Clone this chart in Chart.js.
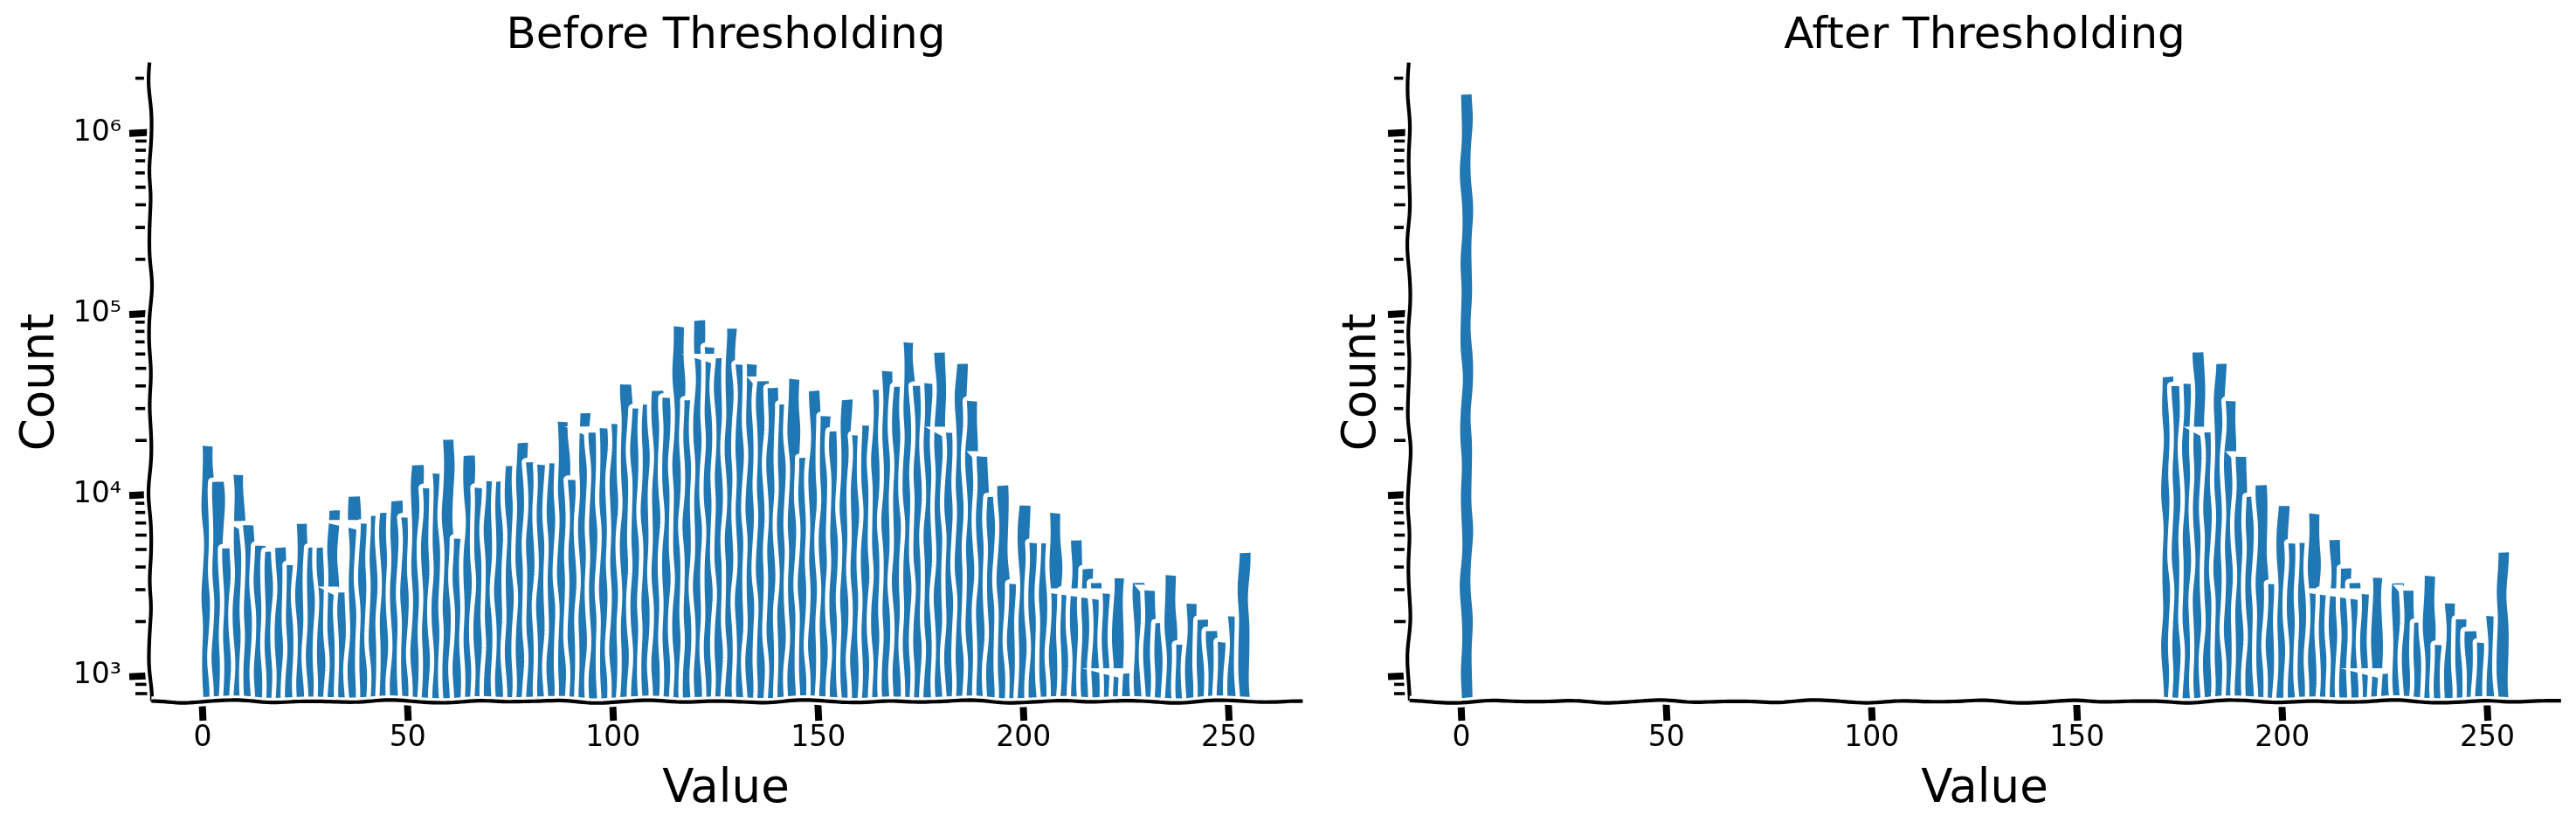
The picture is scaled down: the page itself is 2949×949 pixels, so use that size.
<!DOCTYPE html>
<html>
<head>
<meta charset="utf-8">
<title>Before and After Thresholding</title>
<script src="https://cdn.jsdelivr.net/npm/chart.js@4"></script>
<style>
    html, body { margin: 0; padding: 0; background: #fff; }
    canvas { position: absolute; top: 0; }
    #beforeChart { left: 0; }
    #afterChart { left: 1520px; }
</style>
</head>
<body>
<canvas id="beforeChart" width="1520" height="949"></canvas>
<canvas id="afterChart" width="1429" height="949"></canvas>
<script>
// histogram bins (centre of each 2.55 wide bin)
const binCenters = [
    1.275, 3.825, 6.375, 8.925, 11.475, 14.025, 16.575, 19.125, 21.675, 24.225,
    26.775, 29.325, 31.875, 34.425, 36.975, 39.525, 42.075, 44.625, 47.175, 49.725,
    52.275, 54.825, 57.375, 59.925, 62.475, 65.025, 67.575, 70.125, 72.675, 75.225,
    77.775, 80.325, 82.875, 85.425, 87.975, 90.525, 93.075, 95.625, 98.175, 100.725,
    103.275, 105.825, 108.375, 110.925, 113.475, 116.025, 118.575, 121.125, 123.675, 126.225,
    128.775, 131.325, 133.875, 136.425, 138.975, 141.525, 144.075, 146.625, 149.175, 151.725,
    154.275, 156.825, 159.375, 161.925, 164.475, 167.025, 169.575, 172.125, 174.675, 177.225,
    179.775, 182.325, 184.875, 187.425, 189.975, 192.525, 195.075, 197.625, 200.175, 202.725,
    205.275, 207.825, 210.375, 212.925, 215.475, 218.025, 220.575, 223.125, 225.675, 228.225,
    230.775, 233.325, 235.875, 238.425, 240.975, 243.525, 246.075, 248.625, 251.175, 253.725
];
const beforeCounts = [
    18710, 11950, 5100, 12820, 6810, 5160, 4895, 5160, 4040, 7040,
    5100, 5100, 8160, 2915, 9860, 6960, 7550, 7890, 9290, 7550,
    14660, 10980, 13010, 20520, 5640, 16250, 10860, 11870, 11770, 14330,
    19200, 15200, 14590, 14920, 25340, 12130, 27910, 22180, 23630, 24700,
    41170, 29840, 31530, 37240, 34970, 84100, 32710, 90900, 64920, 56380,
    82000, 52740, 52150, 42570, 39650, 31290, 43520, 15720, 37670, 26790,
    22500, 33330, 21210, 23890, 38350, 48420, 39380, 69080, 40090, 41770,
    61420, 22250, 52740, 33330, 16560, 9860, 11300, 3245, 8670, 5450,
    5370, 7890, 2915, 5700, 3865, 3270, 2820, 3470, 1030, 3270,
    3010, 1975, 3560, 1460, 2540, 2020, 1775, 1540, 2145, 4770
];
const afterBins = [
    1.275, 172.125, 174.675, 177.225, 179.775, 182.325, 184.875, 187.425, 189.975, 192.525,
    195.075, 197.625, 200.175, 202.725, 205.275, 207.825, 210.375, 212.925, 215.475, 218.025,
    220.575, 223.125, 225.675, 228.225, 230.775, 233.325, 235.875, 238.425, 240.975, 243.525,
    246.075, 248.625, 251.175, 253.725
];
const afterCounts = [
    1650000, 44200, 40090, 41770, 61420, 22250, 52740, 33330, 16560, 9860,
    11300, 3245, 8670, 5450, 5370, 7890, 2915, 5700, 3865, 3270,
    2820, 3470, 1030, 3270, 3010, 1975, 3560, 1460, 2540, 2020,
    1775, 1540, 2145, 4770
];

const xTicks = [0, 50, 100, 150, 200, 250];
const yMajorTicks = [1000, 10000, 100000, 1000000];
const yMajorLabels = ['10³', '10⁴', '10⁵', '10⁶'];
const yMinorTicks = [
    800, 900,
    2000, 3000, 4000, 5000, 6000, 7000, 8000, 9000,
    20000, 30000, 40000, 50000, 60000, 70000, 80000, 90000,
    200000, 300000, 400000, 500000, 600000, 700000, 800000, 900000,
    2000000
];

// white slivers the sketch style leaves across neighbouring bars:
// [first bin, last bin, flat count, low count at first bin, low count at last bin]
const beforeSlivers = [
    [2, 4, 7165, 7165, 6270],
    [11, 13, 3115, 3115, 2717],
    [12, 15, 7280, 6985, 6390],
    [34.6, 37, 23890, 23890, 20820],
    [45.75, 49, 60260, 60260, 52560],
    [52, 53, 45140, 45140, 38650],
    [69, 71, 23790, 23790, 20590],
    [73, 74, 17430, 17430, 15040],
    [81, 86, 3050, 2873, 2620],
    [84, 88, 1105, 1105, 964],
    [89, 90, 3200, 3200, 2740]
];
const afterSlivers = [
    [69, 71, 23790, 23790, 20590],
    [73, 74, 17430, 17430, 15040],
    [81, 86, 3050, 2873, 2620],
    [84, 88, 1105, 1105, 964],
    [89, 90, 3200, 3200, 2740]
];

const BIN_WIDTH = 2.55;
const BAR_COLOR = '#1f77b4';
const FONT = "'DejaVu Sans'";

// deterministic hand-drawn wobble
function wobble(s, seed) {
    return 1.0 * Math.sin(s / 15 + seed * 2.399)
        + 0.7 * Math.sin(s / 26 + seed * 1.13)
        + 0.15 * Math.sin(s / 8.3 + seed * 3.71);
}

// trace a polyline through pts, nudged every few pixels
function tracePath(ctx, pts, seed, amp) {
    let s = 0;
    ctx.beginPath();
    ctx.moveTo(pts[0][0] + amp * wobble(0, seed), pts[0][1] + amp * wobble(0, seed + 17));
    for (let i = 1; i < pts.length; i++) {
        const dx = pts[i][0] - pts[i - 1][0];
        const dy = pts[i][1] - pts[i - 1][1];
        const len = Math.hypot(dx, dy);
        const steps = Math.max(1, Math.round(len / 5));
        for (let k = 1; k <= steps; k++) {
            const t = k / steps;
            const at = s + len * t;
            ctx.lineTo(pts[i - 1][0] + dx * t + amp * wobble(at, seed),
                pts[i - 1][1] + dy * t + amp * wobble(at, seed + 17));
        }
        s += len;
    }
}

function strokeHalo(ctx, pts, seed, amp, width) {
    tracePath(ctx, pts, seed, amp);
    ctx.lineCap = 'butt';
    ctx.lineWidth = 10.5;
    ctx.strokeStyle = '#fff';
    ctx.stroke();
    ctx.lineWidth = width;
    ctx.strokeStyle = '#000';
    ctx.stroke();
}

const sketchBars = {
    id: 'sketchBars',
    // bars are laid out by the library, only the painting is replaced here
    beforeDatasetDraw(chart, args, opts) {
        const ctx = chart.ctx;
        const area = chart.chartArea;
        const { x: xScale, y: yScale } = chart.scales;
        ctx.save();
        ctx.beginPath();
        ctx.rect(area.left, area.top, area.width, area.height + 4);
        ctx.clip();
        args.meta.data.forEach((bar, i) => {
            const bin = Math.round((chart.data.datasets[0].data[i].x - BIN_WIDTH / 2) / BIN_WIDTH);
            opts.slivers.filter(r => r[1] === bin).forEach(r => {
                const x0 = xScale.getPixelForValue(r[0] * BIN_WIDTH);
                const x1 = xScale.getPixelForValue(r[1] * BIN_WIDTH);
                ctx.beginPath();
                ctx.moveTo(x0, yScale.getPixelForValue(r[2]));
                ctx.lineTo(x1, yScale.getPixelForValue(r[2]));
                ctx.lineTo(x1, yScale.getPixelForValue(r[4]));
                ctx.lineTo(x0, yScale.getPixelForValue(r[3]));
                ctx.closePath();
                ctx.fillStyle = '#fff';
                ctx.fill();
            });
            const left = bar.x - bar.width / 2;
            const right = bar.x + bar.width / 2;
            const pts = [[left, bar.base], [left, bar.y], [right, bar.y], [right, bar.base]];
            tracePath(ctx, pts, i * 7.3 + opts.seed, 1);
            ctx.closePath();
            ctx.lineJoin = 'round';
            ctx.lineWidth = 10;
            ctx.strokeStyle = '#fff';
            ctx.stroke();
            ctx.fillStyle = BAR_COLOR;
            ctx.fill();
        });
        ctx.restore();
        return false;
    },
    afterDraw(chart, args, opts) {
        const ctx = chart.ctx;
        const area = chart.chartArea;
        const { x: xScale, y: yScale } = chart.scales;
        ctx.save();
        ctx.strokeStyle = '#000';
        ctx.lineCap = 'butt';
        // ticks
        xScale.ticks.forEach(t => {
            const x = xScale.getPixelForValue(t.value);
            ctx.lineWidth = 8;
            ctx.beginPath();
            ctx.moveTo(x - 0.5, area.bottom);
            ctx.lineTo(x + 0.5, area.bottom + 22);
            ctx.stroke();
        });
        yScale.ticks.forEach(t => {
            const y = yScale.getPixelForValue(t.value);
            ctx.lineWidth = t.major ? 8 : 3.6;
            ctx.beginPath();
            ctx.moveTo(area.left - (t.major ? 24 : 17), y + (t.major ? 0.7 : 0));
            ctx.lineTo(area.left, y - (t.major ? 0.5 : 0));
            ctx.stroke();
        });
        // spines go over the ticks and the bar feet
        strokeHalo(ctx, [[area.left, area.top], [area.left, area.bottom]], opts.seed + 3, 1.1, 4.2);
        strokeHalo(ctx, [[area.left, area.bottom], [area.right, area.bottom]], opts.seed + 5, 1, 4.2);
        ctx.restore();
    }
};

function makeHistogram(canvasId, titleText, bins, counts, slivers, seed, sideWidth, countPad, showCountTicks) {
    const canvas = document.getElementById(canvasId);
    return new Chart(canvas, {
        type: 'bar',
        data: {
            datasets: [{
                data: bins.map((b, i) => ({ x: b, y: counts[i] })),
                backgroundColor: BAR_COLOR,
                barPercentage: 1,
                categoryPercentage: 1
            }]
        },
        plugins: [sketchBars],
        options: {
            responsive: false,
            animation: false,
            devicePixelRatio: 1,
            layout: { padding: { right: canvas.width - sideWidth - 1318 } },
            plugins: {
                legend: { display: false },
                tooltip: { enabled: false },
                sketchBars: { slivers: slivers, seed: seed },
                title: {
                    display: true,
                    text: titleText,
                    fullSize: false,
                    color: '#000',
                    font: { family: FONT, size: 50, weight: 'normal', lineHeight: 1.2 },
                    padding: { top: 12, bottom: 0 }
                }
            },
            scales: {
                x: {
                    type: 'linear',
                    offset: false,
                    min: -12.75,
                    max: 267.75,
                    grid: { display: false, drawTicks: false },
                    border: { display: false },
                    afterBuildTicks: s => { s.ticks = xTicks.map(v => ({ value: v })); },
                    afterFit: s => { s.height = 146; },
                    ticks: {
                        color: '#000',
                        font: { family: FONT, size: 33 },
                        autoSkip: false,
                        maxRotation: 0,
                        padding: 23,
                        callback: v => String(v)
                    },
                    title: {
                        display: true,
                        text: 'Value',
                        color: '#000',
                        font: { family: FONT, size: 53, lineHeight: 1.2 },
                        padding: { top: 0, bottom: 13 }
                    }
                },
                y: {
                    type: 'logarithmic',
                    min: 724,
                    max: 2430000,
                    grid: { display: false, drawTicks: false },
                    border: { display: false },
                    afterBuildTicks: s => {
                        s.ticks = yMajorTicks.map(v => ({ value: v, major: true }))
                            .concat(yMinorTicks.map(v => ({ value: v, major: false })));
                    },
                    afterFit: s => { s.width = sideWidth; },
                    ticks: {
                        display: showCountTicks,
                        color: '#000',
                        font: { family: FONT, size: 33 },
                        autoSkip: false,
                        padding: 33,
                        callback: v => {
                            const k = yMajorTicks.indexOf(v);
                            return k >= 0 ? yMajorLabels[k] : '';
                        }
                    },
                    title: {
                        display: true,
                        text: 'Count',
                        color: '#000',
                        font: { family: FONT, size: 53, lineHeight: 1.2 },
                        padding: { top: countPad, bottom: 0 }
                    }
                }
            }
        }
    });
}

document.addEventListener('DOMContentLoaded', () => {
    makeHistogram('beforeChart', 'Before Thresholding', binCenters, beforeCounts, beforeSlivers, 1, 172, 15, true);
    makeHistogram('afterChart', 'After Thresholding', afterBins, afterCounts, afterSlivers, 200, 93, 8, false);
});
</script>
</body>
</html>
